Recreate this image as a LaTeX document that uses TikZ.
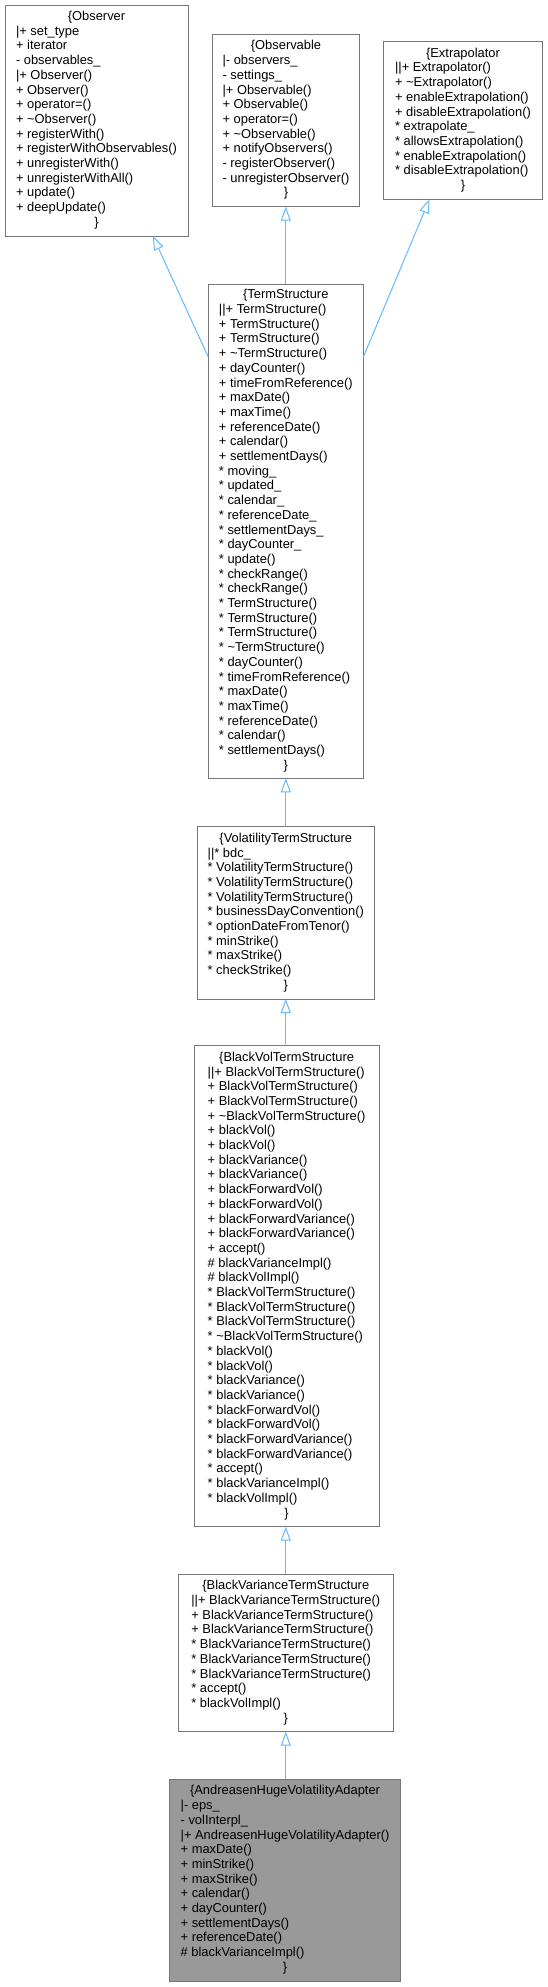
\documentclass[tikz,border=0pt]{standalone}
\usepackage{fontspec}
\setmainfont{Liberation Sans}
\usetikzlibrary{arrows.meta}
\definecolor{boxline}{RGB}{118,118,118}
\definecolor{edgeblue}{RGB}{99,184,255}
\definecolor{curfill}{RGB}{153,153,153}
\newcommand{\umlhead}[1]{\multicolumn{1}{@{}c@{}}{#1}}
\newcommand{\tl}{\textasciitilde}
\newcommand{\umlst}{{*}}
\tikzset{
  umlbox/.style={draw=boxline, line width=0.9pt, fill=white, inner sep=0pt, outer sep=0pt,
    font=\fontsize{12.9}{14.7}\selectfont},
  curbox/.style={umlbox, fill=curfill},
  inh/.style={draw=edgeblue, line width=1pt, -{Triangle[open, length=14pt, width=10pt]}}
}
\begin{document}
\begin{tikzpicture}[x=1pt,y=-1pt]
\useasboundingbox (0,0) rectangle (548,1987);
\renewcommand{\arraystretch}{1}
\node[umlbox, minimum width=183pt, minimum height=231pt] (obs) at (96.5,120.5) {\begin{tabular}{@{}l@{}}
\umlhead{\{Observer}\\
|+ set\_type\\
+ iterator\\
- observables\_\\
|+ Observer()\\
+ Observer()\\
+ operator=()\\
+ \tl Observer()\\
+ registerWith()\\
+ registerWithObservables()\\
+ unregisterWith()\\
+ unregisterWithAll()\\
+ update()\\
+ deepUpdate()\\
\umlhead{\}}
\end{tabular}};
\node[umlbox, minimum width=146.6pt, minimum height=172.4pt] (obsable) at (286,120.5) {\begin{tabular}{@{}l@{}}
\umlhead{\{Observable}\\
|- observers\_\\
- settings\_\\
|+ Observable()\\
+ Observable()\\
+ operator=()\\
+ \tl Observable()\\
+ notifyObservers()\\
- registerObserver()\\
- unregisterObserver()\\
\umlhead{\}}
\end{tabular}};
\node[umlbox, minimum width=159.4pt, minimum height=157.6pt] (extr) at (463,120.5) {\begin{tabular}{@{}l@{}}
\umlhead{\{Extrapolator}\\
||+ Extrapolator()\\
+ \tl Extrapolator()\\
+ enableExtrapolation()\\
+ disableExtrapolation()\\
\umlst{} extrapolate\_\\
\umlst{} allowsExtrapolation()\\
\umlst{} enableExtrapolation()\\
\umlst{} disableExtrapolation()\\
\umlhead{\}}
\end{tabular}};
\node[umlbox, minimum width=155pt, minimum height=494.3pt] (ts) at (285.8,531.15) {\begin{tabular}{@{}l@{}}
\umlhead{\{TermStructure}\\
||+ TermStructure()\\
+ TermStructure()\\
+ TermStructure()\\
+ \tl TermStructure()\\
+ dayCounter()\\
+ timeFromReference()\\
+ maxDate()\\
+ maxTime()\\
+ referenceDate()\\
+ calendar()\\
+ settlementDays()\\
\umlst{} moving\_\\
\umlst{} updated\_\\
\umlst{} calendar\_\\
\umlst{} referenceDate\_\\
\umlst{} settlementDays\_\\
\umlst{} dayCounter\_\\
\umlst{} update()\\
\umlst{} checkRange()\\
\umlst{} checkRange()\\
\umlst{} TermStructure()\\
\umlst{} TermStructure()\\
\umlst{} TermStructure()\\
\umlst{} \tl TermStructure()\\
\umlst{} dayCounter()\\
\umlst{} timeFromReference()\\
\umlst{} maxDate()\\
\umlst{} maxTime()\\
\umlst{} referenceDate()\\
\umlst{} calendar()\\
\umlst{} settlementDays()\\
\umlhead{\}}
\end{tabular}};
\node[umlbox, minimum width=177pt, minimum height=172.3pt] (vts) at (285.8,912.85) {\begin{tabular}{@{}l@{}}
\umlhead{\{VolatilityTermStructure}\\
||\umlst{} bdc\_\\
\umlst{} VolatilityTermStructure()\\
\umlst{} VolatilityTermStructure()\\
\umlst{} VolatilityTermStructure()\\
\umlst{} businessDayConvention()\\
\umlst{} optionDateFromTenor()\\
\umlst{} minStrike()\\
\umlst{} maxStrike()\\
\umlst{} checkStrike()\\
\umlhead{\}}
\end{tabular}};
\node[umlbox, minimum width=185.3pt, minimum height=481pt] (bvts) at (286.6,1286.2) {\begin{tabular}{@{}l@{}}
\umlhead{\{BlackVolTermStructure}\\
||+ BlackVolTermStructure()\\
+ BlackVolTermStructure()\\
+ BlackVolTermStructure()\\
+ \tl BlackVolTermStructure()\\
+ blackVol()\\
+ blackVol()\\
+ blackVariance()\\
+ blackVariance()\\
+ blackForwardVol()\\
+ blackForwardVol()\\
+ blackForwardVariance()\\
+ blackForwardVariance()\\
+ accept()\\
\# blackVarianceImpl()\\
\# blackVolImpl()\\
\umlst{} BlackVolTermStructure()\\
\umlst{} BlackVolTermStructure()\\
\umlst{} BlackVolTermStructure()\\
\umlst{} \tl BlackVolTermStructure()\\
\umlst{} blackVol()\\
\umlst{} blackVol()\\
\umlst{} blackVariance()\\
\umlst{} blackVariance()\\
\umlst{} blackForwardVol()\\
\umlst{} blackForwardVol()\\
\umlst{} blackForwardVariance()\\
\umlst{} blackForwardVariance()\\
\umlst{} accept()\\
\umlst{} blackVarianceImpl()\\
\umlst{} blackVolImpl()\\
\umlhead{\}}
\end{tabular}};
\node[umlbox, minimum width=215pt, minimum height=157.4pt] (bvar) at (285.8,1653) {\begin{tabular}{@{}l@{}}
\umlhead{\{BlackVarianceTermStructure}\\
||+ BlackVarianceTermStructure()\\
+ BlackVarianceTermStructure()\\
+ BlackVarianceTermStructure()\\
\umlst{} BlackVarianceTermStructure()\\
\umlst{} BlackVarianceTermStructure()\\
\umlst{} BlackVarianceTermStructure()\\
\umlst{} accept()\\
\umlst{} blackVolImpl()\\
\umlhead{\}}
\end{tabular}};
\node[curbox, minimum width=231.5pt, minimum height=201.7pt] (ahva) at (285.05,1880.15) {\begin{tabular}{@{}l@{}}
\umlhead{\{AndreasenHugeVolatilityAdapter}\\
|- eps\_\\
- volInterpl\_\\
|+ AndreasenHugeVolatilityAdapter()\\
+ maxDate()\\
+ minStrike()\\
+ maxStrike()\\
+ calendar()\\
+ dayCounter()\\
+ settlementDays()\\
+ referenceDate()\\
\# blackVarianceImpl()\\
\umlhead{\}}
\end{tabular}};
% edges
\draw[inh] (ts.114.7) -- (obs.-64.5);
\draw[inh] (ts.north) -- (ts.north |- obsable.south);
\draw[inh] (ts.66.8) -- (extr.-113.3);
\draw[inh] (vts.north) -- (vts.north |- ts.south);
\draw[inh] (vts.north |- bvts.north) -- (vts.south);
\draw[inh] (vts.north |- bvar.north) -- (vts.south |- bvts.south);
\draw[inh] (vts.north |- ahva.north) -- (vts.south |- bvar.south);
\end{tikzpicture}
\end{document}
